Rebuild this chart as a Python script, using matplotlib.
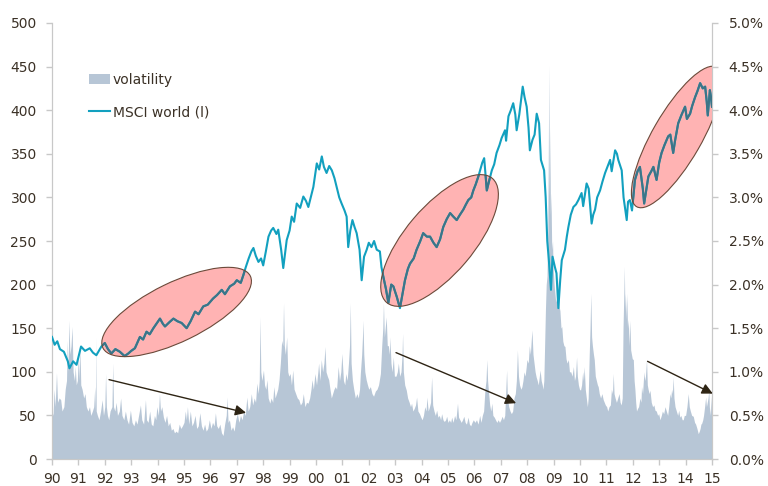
import matplotlib
matplotlib.use("Agg")
import matplotlib.pyplot as plt
from matplotlib.patches import Ellipse
from matplotlib.transforms import IdentityTransform
from matplotlib.ticker import FuncFormatter, MultipleLocator

# ---------------- data ----------------
msci_year = [1990.0, 1990.1, 1990.2, 1990.3, 1990.45, 1990.6, 1990.66, 1990.8, 1990.93, 1991.1,
             1991.25, 1991.43, 1991.55, 1991.68, 1991.87, 1992.0, 1992.12, 1992.25, 1992.4, 1992.57,
             1992.75, 1992.89, 1993.0, 1993.14, 1993.33, 1993.45, 1993.58, 1993.7, 1993.84, 1994.0,
             1994.09, 1994.2, 1994.28, 1994.45, 1994.6, 1994.75, 1994.91, 1995.1, 1995.25, 1995.42,
             1995.55, 1995.73, 1995.9, 1996.1, 1996.25, 1996.43, 1996.55, 1996.74, 1996.9, 1997.0,
             1997.15, 1997.25, 1997.34, 1997.45, 1997.55, 1997.63, 1997.72, 1997.82, 1997.92, 1998.0,
             1998.1, 1998.2, 1998.3, 1998.38, 1998.5, 1998.57, 1998.68, 1998.76, 1998.89, 1999.0,
             1999.08, 1999.17, 1999.27, 1999.4, 1999.52, 1999.62, 1999.71, 1999.8, 1999.9, 2000.03,
             2000.12, 2000.22, 2000.3, 2000.4, 2000.5, 2000.6, 2000.7, 2000.78, 2000.88, 2000.97,
             2001.08, 2001.16, 2001.22, 2001.3, 2001.38, 2001.46, 2001.54, 2001.65, 2001.73, 2001.82,
             2001.92, 2002.0, 2002.1, 2002.2, 2002.3, 2002.42, 2002.48, 2002.55, 2002.65, 2002.74,
             2002.85, 2002.93, 2003.06, 2003.18, 2003.28, 2003.37, 2003.48, 2003.56, 2003.7, 2003.81,
             2003.95, 2004.06, 2004.2, 2004.32, 2004.45, 2004.57, 2004.7, 2004.82, 2004.95, 2005.08,
             2005.2, 2005.33, 2005.45, 2005.58, 2005.68, 2005.77, 2005.88, 2005.96, 2006.05, 2006.15,
             2006.3, 2006.37, 2006.47, 2006.55, 2006.66, 2006.75, 2006.84, 2006.95, 2007.03, 2007.16,
             2007.2, 2007.29, 2007.38, 2007.47, 2007.55, 2007.6, 2007.7, 2007.83, 2007.9, 2007.98,
             2008.05, 2008.1, 2008.2, 2008.28, 2008.36, 2008.45, 2008.52, 2008.64, 2008.7, 2008.76,
             2008.82, 2008.9, 2008.96, 2009.05, 2009.11, 2009.18, 2009.25, 2009.31, 2009.43, 2009.5,
             2009.56, 2009.65, 2009.75, 2009.85, 2009.94, 2010.06, 2010.12, 2010.25, 2010.33, 2010.44,
             2010.5, 2010.57, 2010.65, 2010.76, 2010.85, 2010.95, 2011.05, 2011.14, 2011.2, 2011.33,
             2011.4, 2011.45, 2011.58, 2011.65, 2011.7, 2011.77, 2011.82, 2011.89, 2011.97, 2012.08,
             2012.18, 2012.27, 2012.38, 2012.43, 2012.52, 2012.59, 2012.7, 2012.78, 2012.9, 2013.0,
             2013.09, 2013.2, 2013.34, 2013.42, 2013.53, 2013.6, 2013.72, 2013.85, 2013.98, 2014.05,
             2014.17, 2014.25, 2014.36, 2014.45, 2014.55, 2014.65, 2014.74, 2014.8, 2014.84, 2014.92,
             2014.96, 2015.0]
msci_value = [140, 131, 135, 126, 123, 112, 104, 112, 108, 129,
              124, 127, 122, 119, 129, 133, 126, 121, 126, 123,
              118, 121, 124, 127, 140, 137, 146, 143, 150, 157,
              161, 155, 152, 157, 161, 158, 156, 150, 158, 169,
              166, 175, 177, 184, 188, 194, 189, 198, 201, 205,
              202, 211, 220, 230, 238, 242, 233, 226, 230, 222,
              238, 255, 262, 265, 258, 263, 240, 219, 251, 262,
              278, 272, 293, 288, 301, 296, 289, 300, 312, 339,
              332, 347, 335, 328, 336, 331, 322, 312, 300, 293,
              285, 278, 243, 262, 274, 266, 259, 240, 205, 232,
              240, 248, 243, 250, 240, 238, 220, 209, 195, 179,
              200, 198, 186, 173, 190, 205, 218, 224, 230, 240,
              250, 259, 255, 255, 248, 243, 252, 266, 275, 282,
              278, 274, 280, 286, 292, 297, 300, 308, 315, 324,
              340, 345, 308, 318, 331, 338, 351, 360, 368, 377,
              365, 393, 400, 408, 395, 377, 395, 427, 415, 404,
              380, 354, 366, 372, 396, 385, 343, 331, 300, 250,
              228, 194, 232, 220, 213, 173, 205, 228, 240, 255,
              266, 280, 289, 292, 297, 305, 290, 316, 310, 270,
              280, 286, 300, 308, 318, 328, 336, 343, 330, 354,
              350, 343, 331, 300, 289, 274, 295, 297, 285, 320,
              330, 335, 310, 293, 310, 324, 330, 335, 320, 340,
              351, 360, 370, 372, 351, 365, 385, 395, 404, 390,
              396, 405, 415, 422, 431, 425, 427, 410, 394, 423,
              415, 404]

vol_year = [
    1990.00, 1990.04, 1990.08, 1990.12, 1990.17, 1990.21, 1990.27, 1990.33, 1990.38, 1990.45, 1990.50, 1990.55, 1990.58, 1990.61, 1990.64, 1990.68, 1990.72, 1990.76, 1990.80, 1990.85, 1990.88, 1990.92, 1990.96,
    1991.00, 1991.03, 1991.06, 1991.09, 1991.14, 1991.20, 1991.25, 1991.30, 1991.36, 1991.42, 1991.47, 1991.53, 1991.58, 1991.62, 1991.645, 1991.66, 1991.675, 1991.72, 1991.78, 1991.84, 1991.90, 1991.95,
    1992.00, 1992.03, 1992.06, 1992.10, 1992.15, 1992.20, 1992.27, 1992.30, 1992.33, 1992.38, 1992.43, 1992.48, 1992.55, 1992.60, 1992.65, 1992.72, 1992.78, 1992.84, 1992.90, 1992.97,
    1993.03, 1993.10, 1993.16, 1993.22, 1993.28, 1993.35, 1993.40, 1993.47, 1993.54, 1993.58, 1993.64, 1993.70, 1993.76, 1993.82, 1993.88, 1993.93, 1993.97,
    1994.03, 1994.07, 1994.11, 1994.16, 1994.22, 1994.28, 1994.34, 1994.40, 1994.46, 1994.52, 1994.58, 1994.64, 1994.70, 1994.76, 1994.82, 1994.88, 1994.94,
    1995.00, 1995.05, 1995.09, 1995.13, 1995.18, 1995.24, 1995.30, 1995.36, 1995.42, 1995.48, 1995.54, 1995.60, 1995.66, 1995.72, 1995.78, 1995.84, 1995.90, 1995.96,
    1996.02, 1996.08, 1996.14, 1996.19, 1996.24, 1996.30, 1996.36, 1996.42, 1996.48, 1996.54, 1996.60, 1996.63, 1996.67, 1996.72, 1996.78, 1996.84, 1996.90, 1996.96,
    1997.02, 1997.08, 1997.14, 1997.20, 1997.26, 1997.32, 1997.38, 1997.43, 1997.49, 1997.55, 1997.60, 1997.66, 1997.71, 1997.76, 1997.81, 1997.85, 1997.88, 1997.91, 1997.95,
    1998.01, 1998.05, 1998.10, 1998.14, 1998.19, 1998.25, 1998.30, 1998.36, 1998.40, 1998.45, 1998.50, 1998.55, 1998.60, 1998.65, 1998.70, 1998.74, 1998.77, 1998.80, 1998.84, 1998.89, 1998.93, 1998.97,
    1999.02, 1999.07, 1999.12, 1999.17, 1999.23, 1999.29, 1999.35, 1999.41, 1999.47, 1999.52, 1999.58, 1999.64, 1999.70, 1999.76, 1999.81, 1999.85, 1999.90, 1999.96,
    2000.02, 2000.07, 2000.10, 2000.15, 2000.20, 2000.25, 2000.30, 2000.34, 2000.38, 2000.43, 2000.48, 2000.53, 2000.58, 2000.63, 2000.68, 2000.73, 2000.78, 2000.84, 2000.89, 2000.94, 2000.98,
    2001.04, 2001.09, 2001.13, 2001.18, 2001.23, 2001.27, 2001.30, 2001.33, 2001.38, 2001.43, 2001.49, 2001.55, 2001.60, 2001.65, 2001.68, 2001.73, 2001.76, 2001.78, 2001.81, 2001.85, 2001.90, 2001.95,
    2002.00, 2002.06, 2002.12, 2002.18, 2002.25, 2002.31, 2002.37, 2002.44, 2002.49, 2002.53, 2002.555, 2002.59, 2002.62, 2002.66, 2002.70, 2002.74, 2002.78, 2002.80, 2002.84, 2002.88, 2002.93, 2002.97,
    2003.03, 2003.08, 2003.12, 2003.17, 2003.22, 2003.26, 2003.28, 2003.31, 2003.36, 2003.42, 2003.47, 2003.53, 2003.58, 2003.62, 2003.67, 2003.72, 2003.77, 2003.81, 2003.86, 2003.92, 2003.97,
    2004.02, 2004.07, 2004.12, 2004.17, 2004.20, 2004.25, 2004.30, 2004.34, 2004.38, 2004.42, 2004.47, 2004.52, 2004.57, 2004.62, 2004.67, 2004.72, 2004.76, 2004.81, 2004.86, 2004.91, 2004.95,
    2005.00, 2005.05, 2005.10, 2005.14, 2005.19, 2005.25, 2005.30, 2005.36, 2005.40, 2005.45, 2005.50, 2005.55, 2005.60, 2005.65, 2005.70, 2005.76, 2005.81, 2005.86, 2005.91, 2005.96,
    2006.02, 2006.08, 2006.14, 2006.20, 2006.25, 2006.30, 2006.35, 2006.40, 2006.44, 2006.47, 2006.50, 2006.54, 2006.58, 2006.62, 2006.66, 2006.70, 2006.75, 2006.80, 2006.85, 2006.90, 2006.95,
    2007.00, 2007.05, 2007.10, 2007.15, 2007.19, 2007.22, 2007.25, 2007.30, 2007.35, 2007.40, 2007.45, 2007.50, 2007.55, 2007.59, 2007.63, 2007.67, 2007.71, 2007.76, 2007.80, 2007.84, 2007.88, 2007.92, 2007.96, 2007.99,
    2008.04, 2008.08, 2008.12, 2008.15, 2008.18, 2008.22, 2008.26, 2008.30, 2008.34, 2008.38, 2008.42, 2008.46, 2008.49, 2008.53, 2008.57, 2008.60, 2008.63, 2008.66, 2008.69, 2008.72, 2008.75, 2008.78, 2008.80, 2008.82, 2008.84, 2008.86, 2008.88, 2008.90, 2008.93, 2008.96, 2008.98,
    2009.02, 2009.05, 2009.08, 2009.12, 2009.15, 2009.18, 2009.21, 2009.24, 2009.28, 2009.31, 2009.35, 2009.39, 2009.43, 2009.47, 2009.51, 2009.56, 2009.60, 2009.65, 2009.70, 2009.75, 2009.79, 2009.83, 2009.87, 2009.90, 2009.94, 2009.98,
    2010.02, 2010.06, 2010.10, 2010.13, 2010.16, 2010.20, 2010.24, 2010.28, 2010.31, 2010.35, 2010.38, 2010.41, 2010.44, 2010.47, 2010.51, 2010.54, 2010.58, 2010.62, 2010.66, 2010.69, 2010.73, 2010.78, 2010.83, 2010.88, 2010.92, 2010.96,
    2011.01, 2011.05, 2011.10, 2011.15, 2011.19, 2011.23, 2011.26, 2011.29, 2011.33, 2011.38, 2011.43, 2011.48, 2011.52, 2011.56, 2011.60, 2011.63, 2011.66, 2011.68, 2011.70, 2011.72, 2011.75, 2011.77, 2011.80, 2011.83, 2011.86, 2011.89, 2011.92, 2011.95, 2011.98,
    2012.02, 2012.05, 2012.08, 2012.11, 2012.14, 2012.18, 2012.22, 2012.27, 2012.31, 2012.33, 2012.37, 2012.42, 2012.45, 2012.48, 2012.52, 2012.55, 2012.58, 2012.62, 2012.65, 2012.70, 2012.75, 2012.80, 2012.84, 2012.89, 2012.94, 2012.98,
    2013.03, 2013.08, 2013.12, 2013.17, 2013.22, 2013.27, 2013.32, 2013.36, 2013.41, 2013.44, 2013.47, 2013.50, 2013.53, 2013.56, 2013.60, 2013.65, 2013.70, 2013.74, 2013.78, 2013.82, 2013.87, 2013.91, 2013.95,
    2014.00, 2014.05, 2014.10, 2014.14, 2014.18, 2014.23, 2014.29, 2014.34, 2014.38, 2014.43, 2014.48, 2014.52, 2014.55, 2014.58, 2014.61, 2014.65, 2014.68, 2014.72, 2014.76, 2014.79, 2014.82, 2014.85, 2014.88, 2014.90, 2014.93, 2014.96, 2014.98, 2015.00]
vol_pct = [
    0.55, 0.50, 0.80, 0.60, 0.99, 0.65, 0.70, 0.68, 0.55, 0.60, 0.80, 0.90, 1.36, 1.00, 1.59, 1.20, 1.30, 1.52, 1.00, 0.90, 1.06, 0.85, 0.90,
    1.22, 0.90, 1.30, 0.85, 0.80, 0.70, 0.75, 0.60, 0.55, 0.60, 0.50, 0.55, 0.60, 0.83, 0.55, 1.40, 0.55, 0.50, 0.45, 0.55, 0.68, 0.50,
    0.60, 0.98, 0.60, 0.50, 0.45, 0.55, 0.60, 1.10, 0.60, 0.55, 0.65, 0.50, 0.55, 0.70, 0.50, 0.45, 0.55, 0.45, 0.40, 0.56,
    0.42, 0.38, 0.45, 0.40, 0.50, 0.62, 0.45, 0.40, 0.68, 0.45, 0.42, 0.55, 0.40, 0.38, 0.50, 0.45, 0.60,
    0.50, 0.75, 0.55, 0.60, 0.48, 0.42, 0.50, 0.38, 0.42, 0.33, 0.35, 0.30, 0.32, 0.30, 0.40, 0.35, 0.38,
    0.42, 0.55, 0.45, 0.60, 0.40, 0.55, 0.38, 0.42, 0.50, 0.35, 0.38, 0.53, 0.38, 0.33, 0.40, 0.32, 0.35, 0.45,
    0.35, 0.42, 0.38, 0.53, 0.38, 0.35, 0.40, 0.30, 0.27, 0.40, 0.50, 0.71, 0.42, 0.45, 0.33, 0.37, 0.32, 0.45,
    0.52, 0.42, 0.50, 0.45, 0.55, 0.50, 0.71, 0.55, 0.60, 0.75, 0.62, 0.70, 0.65, 0.87, 0.75, 0.90, 1.63, 1.00, 0.90,
    1.02, 0.85, 0.80, 0.91, 0.70, 0.64, 0.70, 0.65, 0.83, 0.70, 0.75, 0.80, 0.91, 1.10, 1.36, 1.30, 1.79, 1.30, 1.20, 1.40, 1.00, 0.95,
    0.98, 0.85, 1.02, 0.80, 0.75, 0.70, 0.68, 0.62, 0.65, 0.75, 0.60, 0.65, 0.64, 0.70, 0.80, 0.91, 0.80, 0.98,
    0.85, 1.00, 1.10, 0.90, 1.14, 1.00, 1.10, 1.29, 1.00, 0.95, 0.91, 0.80, 0.70, 0.75, 0.80, 0.83, 0.80, 1.06, 0.90, 1.00, 1.21,
    0.90, 0.85, 0.98, 0.90, 1.10, 1.30, 1.79, 1.10, 0.90, 0.80, 0.70, 0.75, 0.70, 0.80, 0.98, 1.20, 1.40, 1.59, 1.20, 1.00, 0.91, 0.85,
    0.80, 0.83, 0.75, 0.72, 0.78, 0.80, 0.85, 0.98, 1.30, 1.50, 1.79, 1.40, 1.50, 1.63, 1.30, 1.30, 1.20, 1.40, 1.10, 1.00, 1.17, 0.95,
    0.95, 1.00, 1.10, 0.95, 1.00, 1.20, 1.44, 1.00, 0.85, 0.79, 0.70, 0.65, 0.60, 0.64, 0.55, 0.58, 0.62, 0.71, 0.55, 0.52, 0.48,
    0.45, 0.50, 0.60, 0.55, 0.71, 0.55, 0.60, 0.65, 0.94, 0.62, 0.55, 0.50, 0.56, 0.48, 0.50, 0.45, 0.52, 0.45, 0.43, 0.45, 0.49,
    0.42, 0.45, 0.42, 0.48, 0.42, 0.50, 0.45, 0.64, 0.48, 0.45, 0.42, 0.45, 0.49, 0.42, 0.40, 0.48, 0.40, 0.38, 0.42, 0.45,
    0.42, 0.45, 0.40, 0.50, 0.42, 0.50, 0.55, 0.80, 0.90, 1.14, 0.90, 0.75, 0.62, 0.55, 0.64, 0.50, 0.48, 0.45, 0.42, 0.45, 0.42,
    0.45, 0.49, 0.45, 0.50, 0.80, 1.02, 0.70, 0.60, 0.55, 0.52, 0.55, 0.70, 0.75, 0.90, 1.25, 0.95, 0.85, 0.80, 0.83, 0.90, 1.00, 0.95, 1.05, 1.14,
    1.10, 1.30, 1.20, 1.35, 1.48, 1.20, 1.10, 1.00, 0.94, 0.90, 0.85, 0.95, 1.02, 0.90, 0.85, 0.80, 0.90, 1.30, 1.70, 2.00, 2.10, 2.60, 3.50, 4.52, 3.00, 3.80, 2.80, 3.05, 2.40, 2.50, 2.20,
    2.00, 1.90, 1.80, 1.85, 1.75, 2.09, 1.75, 1.70, 1.50, 1.52, 1.35, 1.30, 1.29, 1.15, 1.10, 1.14, 1.00, 1.00, 0.95, 1.06, 0.90, 0.95, 1.17, 0.95, 0.85, 0.80,
    0.79, 0.85, 1.00, 0.90, 1.06, 0.80, 0.70, 0.60, 0.70, 1.20, 1.50, 1.90, 1.40, 1.30, 1.20, 1.14, 0.95, 0.90, 0.85, 0.83, 0.75, 0.70, 0.75, 0.68, 0.65, 0.62,
    0.60, 0.55, 0.60, 0.62, 0.80, 0.75, 0.98, 0.75, 0.70, 0.65, 0.70, 0.75, 0.65, 0.62, 0.70, 1.50, 1.90, 2.21, 1.70, 1.90, 1.60, 1.90, 1.50, 1.60, 1.30, 1.59, 1.25, 1.20, 1.15,
    1.14, 0.90, 0.80, 0.65, 0.55, 0.58, 0.60, 0.70, 0.65, 0.83, 0.75, 1.00, 0.90, 0.95, 1.14, 0.85, 0.80, 0.75, 0.79, 0.65, 0.60, 0.62, 0.56, 0.55, 0.50, 0.52,
    0.45, 0.50, 0.55, 0.52, 0.60, 0.55, 0.50, 0.60, 0.75, 0.70, 0.80, 0.75, 0.94, 0.70, 0.60, 0.55, 0.50, 0.56, 0.48, 0.50, 0.45, 0.45, 0.50,
    0.50, 0.60, 0.75, 0.60, 0.55, 0.50, 0.49, 0.42, 0.40, 0.35, 0.29, 0.32, 0.35, 0.40, 0.41, 0.45, 0.50, 0.60, 0.71, 0.60, 0.65, 0.70, 0.79, 0.60, 0.50, 0.72, 0.52, 0.52]

year_ticks = list(range(1990, 2016))
year_labels = ["%02d" % (y % 100) for y in year_ticks]

# ---------------- styling ----------------
TEXT = "#3b3126"
SPINE = "#c8c8c8"
VOL_C = "#b7c6d6"
LINE_C = "#12a0bf"
LINE_IN = "#3d7487"
ELL_FILL = "#ffb3b3"
ELL_EDGE = "#6b4a3a"
ARROW_C = "#2e2414"

plt.rcParams["font.family"] = ["DejaVu Sans"]
plt.rcParams["font.size"] = 10

fig = plt.figure(figsize=(7.68, 4.86), dpi=100)
axL = fig.add_axes([52 / 768, 27 / 486, 660 / 768, 436 / 486])
axR = axL.twinx()
axL.set_zorder(axR.get_zorder() + 1)
axL.patch.set_visible(False)

vol_fill = axR.fill_between(vol_year, 0, vol_pct, color=VOL_C, lw=0, label="volatility")
axR.set_ylim(0, 5)
axR.yaxis.set_major_locator(MultipleLocator(0.5))
axR.yaxis.set_major_formatter(FuncFormatter(lambda v, p: "%.1f%%" % v))

line, = axL.plot(msci_year, msci_value, color=LINE_C, lw=1.5, label="MSCI world (l)", zorder=3)
axL.set_ylim(0, 500)
axL.set_xlim(1990, 2015)
axL.yaxis.set_major_locator(MultipleLocator(50))
axL.set_xticks(year_ticks)
axL.set_xticklabels(year_labels)

for a in (axL, axR):
    for s in a.spines.values():
        s.set_color(SPINE)
    a.spines["top"].set_visible(False)
    a.tick_params(colors=TEXT, labelsize=10, length=4, width=1)
    a.tick_params(axis="both", color=SPINE)
axL.tick_params(axis="y", pad=7)
axR.tick_params(axis="y", pad=8)
axL.tick_params(axis="x", pad=5)

# ---------------- highlight ellipses (center in data, size in pixels) ----------------
ellipses = [((1994.72, 168.6), 164, 59, 26),
            ((2004.68, 250.6), 163, 68, 49.6),
            ((2013.67, 369.3), 161, 49, 60)]
fig.canvas.draw()
for (cx, cy), w, h, ang in ellipses:
    px, py = axL.transData.transform((cx, cy))
    e_fill = Ellipse((px, py), w, h, angle=ang, transform=IdentityTransform(),
                     facecolor=ELL_FILL, edgecolor="none", zorder=2)
    axL.add_artist(e_fill)
    clip = Ellipse((px, py), w, h, angle=ang, transform=IdentityTransform())
    inner, = axL.plot(msci_year, msci_value, color=LINE_IN, lw=1.5, zorder=4)
    inner.set_clip_path(clip)
    e_edge = Ellipse((px, py), w, h, angle=ang, transform=IdentityTransform(),
                     facecolor="none", edgecolor=ELL_EDGE, lw=0.8, zorder=5)
    axL.add_artist(e_edge)

# ---------------- arrows ----------------
arrows = [((1992.16, 91), (1997.35, 53)),
          ((2003.03, 122), (2007.58, 64)),
          ((2012.56, 112), (2015.03, 75))]
for (x0, y0), (x1, y1) in arrows:
    axL.annotate("", xy=(x1, y1), xytext=(x0, y0), xycoords="data",
                 arrowprops=dict(arrowstyle="-|>", color=ARROW_C, lw=1.0,
                                 mutation_scale=16, shrinkA=0, shrinkB=0),
                 zorder=6, annotation_clip=False)

leg = axL.legend([vol_fill, line], ["volatility", "MSCI world (l)"],
                 loc="upper left", bbox_to_anchor=((89 - 52) / 660, (459 - 73) / 436),
                 frameon=False, fontsize=10, handlelength=1.5, handletextpad=0.2,
                 labelspacing=1.32, borderpad=0, borderaxespad=0)
for t in leg.get_texts():
    t.set_color(TEXT)

fig.savefig("out.png", dpi=100)
